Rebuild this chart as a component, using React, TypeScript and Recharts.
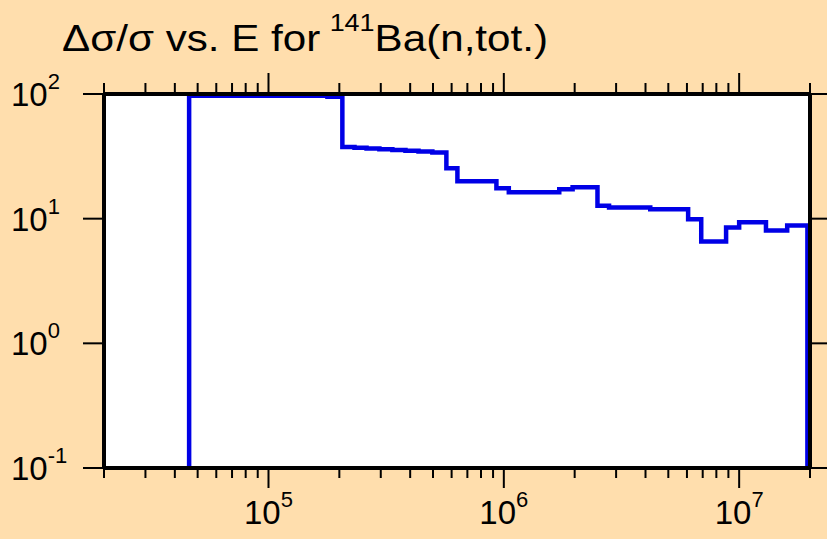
import React from "react";
import { LineChart, Line, XAxis, YAxis, CartesianGrid } from "recharts";

// Energy (eV) at which each step starts, and relative uncertainty (%) held from there
const energies = [
  4.6e4, 4.6e4, 1.78e5, 2.06e5, 2.32e5, 2.61e5, 2.96e5, 3.36e5, 3.82e5, 4.34e5, 4.97e5,
  5.7e5, 6.35e5, 9.3e5, 1.05e6, 1.72e6, 1.96e6, 2.5e6, 2.8e6, 4.19e6, 6.07e6, 6.9e6,
  8.8e6, 1.0e7, 1.3e7, 1.6e7, 1.95e7,
];
const relUnc = [
  0.1, 97, 95, 37.5, 37, 36.5, 36, 35.5, 35, 34.5, 34,
  25.4, 20.0, 17.5, 16.3, 17.2, 17.9, 12.7, 12.3, 11.9, 9.9, 6.56,
  8.5, 9.34, 8.05, 8.83, 0.1,
];

const xTicks = [
  2e4, 3e4, 4e4, 5e4, 6e4, 7e4, 8e4, 9e4,
  1e5, 2e5, 3e5, 4e5, 5e5, 6e5, 7e5, 8e5, 9e5,
  1e6, 2e6, 3e6, 4e6, 5e6, 6e6, 7e6, 8e6, 9e6,
  1e7, 2e7,
];
const yTicks = [0.1, 1, 10, 100];
const xDomain = [2e4, 2e7];
const yDomain = [0.1, 100];

const data = energies.map((e, i) => ({ e, v: relUnc[i] }));

const FONT = "'Liberation Sans', Arial, Helvetica, sans-serif";
const BG = "#FFDEAD";

const isDecade = (v: number) => {
  const l = Math.log10(v);
  return Math.abs(l - Math.round(l)) < 1e-6;
};
const expOf = (v: number) => Math.round(Math.log10(v));

const BottomTick = (props: any) => {
  const { x, y, payload } = props;
  const major = isDecade(payload.value);
  return (
    <g>
      <line x1={x} y1={y} x2={x} y2={y + (major ? 20 : 10)} stroke="#000" strokeWidth={2} />
      {major && (
        <text x={x} y={y + 56} textAnchor="middle" fontFamily={FONT} fontSize={33} fill="#000">
          10
          <tspan dy={-17} fontSize={22}>{expOf(payload.value)}</tspan>
        </text>
      )}
    </g>
  );
};

const TopTick = (props: any) => {
  const { x, y, payload } = props;
  const major = isDecade(payload.value);
  return <line x1={x} y1={y} x2={x} y2={y - (major ? 21 : 11)} stroke="#000" strokeWidth={2} />;
};

const LeftTick = (props: any) => {
  const { x, y, payload } = props;
  return (
    <g>
      <line x1={x} y1={y} x2={x - 21} y2={y} stroke="#000" strokeWidth={2} />
      <text x={x - 93} y={y + 12} textAnchor="start" fontFamily={FONT} fontSize={33} fill="#000">
        10
        <tspan dy={-17} fontSize={22}>{expOf(payload.value)}</tspan>
      </text>
    </g>
  );
};

const RightTick = (props: any) => {
  const { x, y } = props;
  return <line x1={x} y1={y} x2={x + 18} y2={y} stroke="#000" strokeWidth={2} />;
};

export default function App() {
  return (
    <div style={{ position: "relative", width: 827, height: 539, background: BG }}>
      <style>{`body{margin:0;background:${BG};}`}</style>
      <LineChart
        width={827}
        height={539}
        data={data}
        margin={{ top: 0, right: 0, bottom: 0, left: 0 }}
      >
        <CartesianGrid fill="#ffffff" horizontal={false} vertical={false} xAxisId="bottom" yAxisId="left" />
        <Line
          xAxisId="bottom"
          yAxisId="left"
          type="stepAfter"
          dataKey="v"
          stroke="#0000e6"
          strokeWidth={4.5}
          dot={false}
          activeDot={false}
          isAnimationActive={false}
        />
        <XAxis
          xAxisId="bottom"
          dataKey="e"
          type="number"
          scale="log"
          domain={xDomain}
          allowDataOverflow
          ticks={xTicks}
          interval={0}
          height={71}
          orientation="bottom"
          axisLine={{ stroke: "#000", strokeWidth: 4 }}
          tickLine={false}
          tickSize={0}
          tickMargin={0}
          tick={<BottomTick />}
        />
        <XAxis
          xAxisId="top"
          dataKey="e"
          type="number"
          scale="log"
          domain={xDomain}
          allowDataOverflow
          ticks={xTicks}
          interval={0}
          height={94}
          orientation="top"
          axisLine={{ stroke: "#000", strokeWidth: 4 }}
          tickLine={false}
          tickSize={0}
          tickMargin={0}
          tick={<TopTick />}
        />
        <YAxis
          yAxisId="left"
          type="number"
          scale="log"
          domain={yDomain}
          allowDataOverflow
          ticks={yTicks}
          interval={0}
          width={104}
          orientation="left"
          axisLine={{ stroke: "#000", strokeWidth: 4 }}
          tickLine={false}
          tickSize={0}
          tickMargin={0}
          tick={<LeftTick />}
        />
        <YAxis
          yAxisId="right"
          type="number"
          scale="log"
          domain={yDomain}
          allowDataOverflow
          ticks={yTicks}
          interval={0}
          width={17}
          orientation="right"
          axisLine={{ stroke: "#000", strokeWidth: 4 }}
          tickLine={false}
          tickSize={0}
          tickMargin={0}
          tick={<RightTick />}
        />
      </LineChart>
      <svg
        width={827}
        height={70}
        style={{ position: "absolute", left: 0, top: 0, pointerEvents: "none" }}
      >
        <text x={62} y={51} fontFamily={FONT} fontSize={36} fill="#000" textLength={486} lengthAdjust="spacingAndGlyphs">
          Δσ/σ vs. E for
          <tspan dx={8} dy={-20} fontSize={23}>141</tspan>
          <tspan dy={20}>Ba(n,tot.)</tspan>
        </text>
      </svg>
    </div>
  );
}
